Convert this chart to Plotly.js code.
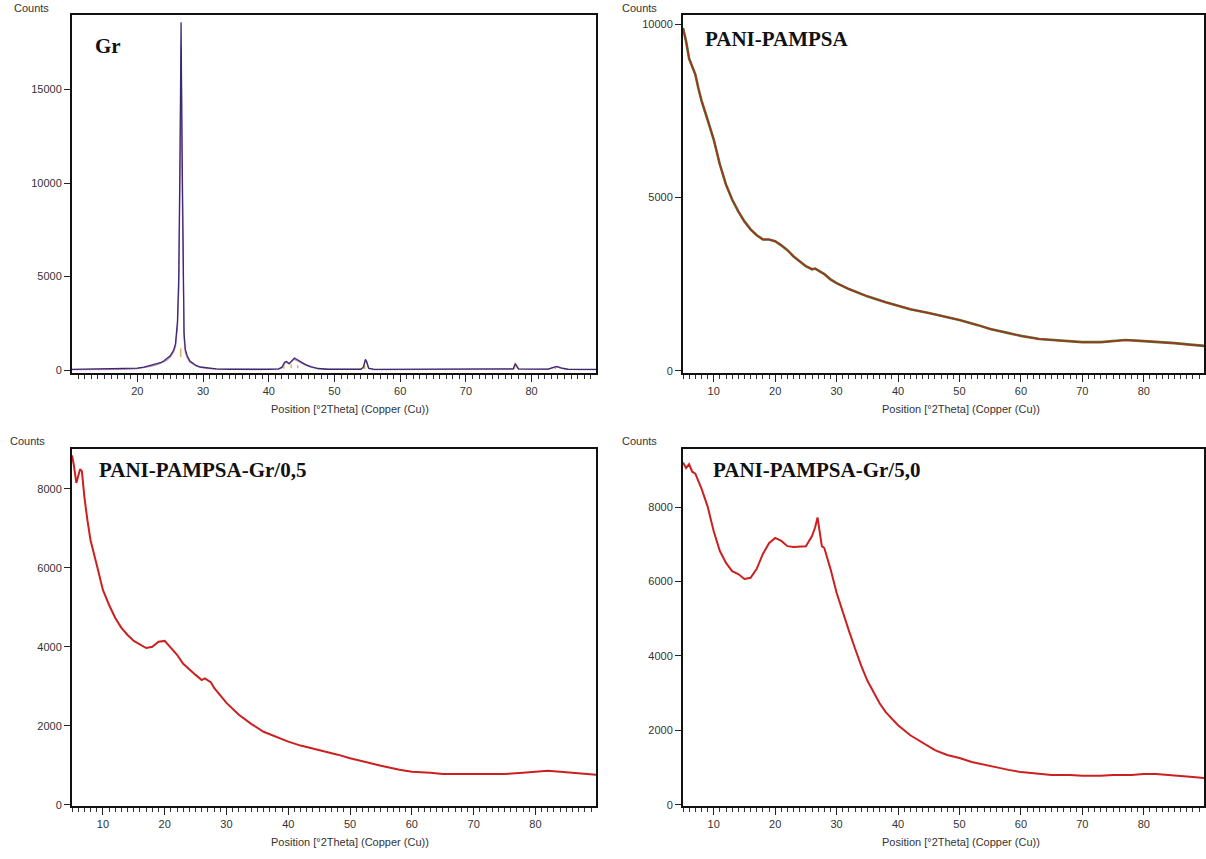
<!DOCTYPE html>
<html>
<head>
<meta charset="utf-8">
<script src="https://cdn.plot.ly/plotly-3.0.1.min.js"></script>
<style>html,body{margin:0;padding:0;background:#fff;}#chart{width:1206px;height:859px;}</style>
</head>
<body>
<div id="chart"></div>
<script>
// ---------- Data ----------
// Panel 1: Gr
const grTheta = [10,12,14,16,18,20,21,22,23,23.5,24,24.5,25,25.5,25.8,26.1,26.3,26.5,26.65,26.8,26.95,27.1,27.3,27.6,28,28.5,29,29.6,30.5,32,34,36,38,40,41.5,42,42.4,42.7,43.1,43.5,43.9,44.3,45,45.6,46.4,47.5,49,52,54,54.4,54.7,54.9,55.2,56,60,65,70,75,77.2,77.5,77.7,78,80,82.5,83.2,83.8,84.5,85.5,88,90];
const grObserved = [30,40,30,50,60,100,150,230,330,390,480,600,760,1050,1400,2600,5000,12000,18600,12000,5000,2000,1100,750,480,330,230,160,110,60,40,30,30,40,60,150,420,460,340,520,640,560,400,290,180,80,40,30,40,150,570,450,100,30,30,30,40,40,60,330,250,60,40,50,130,190,110,40,30,30];
const grCalculated = [20,25,20,30,40,80,130,200,290,350,430,540,690,950,1250,2300,4300,10500,17300,10500,4300,1700,950,650,420,290,200,140,90,50,30,20,20,30,50,110,350,400,330,470,580,500,360,260,160,70,30,20,30,120,500,380,80,20,20,20,30,30,50,280,210,50,30,40,110,170,90,30,20,20];
const grRefPos = [26.6, 42.3, 43.4, 44.4, 54.6, 77.4, 83.6];
const grRefLow = [700, 80, 100, 100, 60, 50, 40];
const grRefHigh = [1150, 250, 300, 260, 250, 180, 140];

// Panel 2: PANI-PAMPSA
const paTheta = [5,5.5,6,6.5,7,7.5,8,9,10,11,12,13,14,15,16,17,18,19,20,21,22,23,24,25,26,26.5,27,28,29,30,32,35,38,40,42,45,48,50,53,55,58,60,63,65,68,70,73,75,77,80,83,85,88,90];
const paCounts = [9885,9500,9000,8750,8550,8150,7800,7240,6670,5950,5370,4940,4600,4310,4080,3910,3790,3790,3740,3620,3480,3300,3160,3020,2930,2950,2900,2790,2640,2530,2360,2150,1980,1870,1780,1670,1550,1470,1320,1210,1090,1010,920,890,860,830,830,860,890,860,830,800,750,720];

// Panel 3: PANI-PAMPSA-Gr/0,5
const g05Theta = [5,5.3,5.7,6,6.3,6.6,7,7.5,8,9,10,11,12,13,14,15,16,17,18,19,20,21,22,23,24,25,26,26.5,27,27.5,28,29,30,32,34,36,38,40,42,45,48,50,53,55,58,60,63,65,68,70,73,75,78,80,82,84,86,88,90];
const g05Counts = [8850,8600,8150,8300,8500,8450,7800,7200,6700,6080,5440,5060,4730,4480,4300,4150,4050,3970,4000,4130,4150,3970,3800,3570,3420,3290,3160,3200,3150,3100,2960,2780,2580,2280,2050,1850,1720,1600,1500,1390,1270,1180,1060,990,890,840,810,780,780,780,780,780,810,840,860,840,810,780,760];

// Panel 4: PANI-PAMPSA-Gr/5,0
const g50Theta = [5,5.5,6,6.5,7,7.5,8,9,10,11,12,13,14,15,16,17,18,19,20,21,22,23,24,25,26,26.5,26.9,27.3,27.6,28,29,30,31,32,33,34,35,36,37,38,40,42,44,46,48,50,52,55,58,60,63,65,68,70,73,75,78,80,82,85,88,90];
const g50Counts = [9200,9050,9150,8950,8900,8700,8500,8020,7350,6820,6500,6280,6200,6070,6100,6340,6740,7030,7170,7090,6950,6930,6930,6950,7220,7450,7720,7300,6950,6900,6340,5700,5160,4680,4200,3740,3340,3020,2730,2490,2140,1870,1660,1470,1340,1260,1150,1040,940,880,830,800,800,780,780,800,800,830,830,780,750,720];

const panelLabels = ["Gr", "PANI-PAMPSA", "PANI-PAMPSA-Gr/0,5", "PANI-PAMPSA-Gr/5,0"];
const xTitle = "Position [°2Theta] (Copper (Cu))";
const yLabel = "Counts";

// ---------- Helpers ----------
const W = 1206, H = 859;
const px = v => v / W;
const py = v => 1 - v / H;
const sansFont = "'Liberation Sans', Arial, sans-serif";

// reference sticks as segments
const refX = [], refY = [];
grRefPos.forEach((p, i) => { refX.push(p, p, null); refY.push(grRefLow[i], grRefHigh[i], null); });

const traces = [
  {x: grTheta, y: grCalculated, xaxis: 'x', yaxis: 'y', mode: 'lines', line: {color: '#c08ab8', width: 1.3}, hoverinfo: 'skip'},
  {x: refX, y: refY, xaxis: 'x', yaxis: 'y', mode: 'lines', line: {color: '#e0a440', width: 1.3}, hoverinfo: 'skip'},
  {x: grTheta, y: grObserved, xaxis: 'x', yaxis: 'y', mode: 'lines', line: {color: '#3a2a72', width: 1.3}},
  {x: paTheta, y: paCounts, xaxis: 'x2', yaxis: 'y2', mode: 'lines', line: {color: '#4f7d35', width: 2.6}},
  {x: paTheta, y: paCounts, xaxis: 'x2', yaxis: 'y2', mode: 'lines', line: {color: '#a8301e', width: 1.5}},
  {x: g05Theta, y: g05Counts, xaxis: 'x3', yaxis: 'y3', mode: 'lines', line: {color: '#cc2020', width: 2}},
  {x: g50Theta, y: g50Counts, xaxis: 'x4', yaxis: 'y4', mode: 'lines', line: {color: '#cc2020', width: 2}}
];

function xAxis(domain, range, anchor) {
  return {
    domain: domain, range: range, anchor: anchor,
    showline: true, mirror: true, linecolor: '#111', linewidth: 2,
    showgrid: false, zeroline: false,
    ticks: 'outside', ticklen: 7, tickwidth: 1, tickcolor: '#222',
    dtick: 10, tick0: 0, tickformat: 'd',
    minor: {dtick: 1, tick0: 0, ticks: 'outside', ticklen: 4, tickwidth: 1, tickcolor: '#333', showgrid: false},
    tickfont: {family: sansFont, size: 11, color: '#333'}
  };
}
function yAxis(domain, range, anchor, dtick) {
  return {
    domain: domain, range: range, anchor: anchor,
    showline: true, mirror: true, linecolor: '#111', linewidth: 2,
    showgrid: false, zeroline: false,
    ticks: 'outside', ticklen: 6, tickwidth: 1, tickcolor: '#222',
    dtick: dtick, tick0: 0, tickformat: 'd',
    tickfont: {family: sansFont, size: 11, color: '#333'}
  };
}

const leftX = [px(72), px(596)];
const rightX = [px(683), px(1204)];
const topY = [py(373), py(15)];
const botY = [py(806), py(449)];

const annotations = [];
// "Counts" labels
[[12, 8], [620, 8], [8, 441], [620, 441]].forEach(([x, y]) => {
  annotations.push({text: yLabel, xref: 'paper', yref: 'paper', x: px(x), y: py(y), xanchor: 'left', yanchor: 'middle',
    showarrow: false, font: {family: sansFont, size: 11, color: '#333'}});
});
// x-axis titles
[[350, 409], [961, 409], [350, 842], [961, 842]].forEach(([x, y]) => {
  annotations.push({text: xTitle, xref: 'paper', yref: 'paper', x: px(x), y: py(y), xanchor: 'center', yanchor: 'middle',
    showarrow: false, font: {family: sansFont, size: 11, color: '#333'}});
});
// panel labels
[[93, 46], [703, 39], [97, 470], [711, 470]].forEach(([x, y], i) => {
  annotations.push({text: '<b>' + panelLabels[i] + '</b>', xref: 'paper', yref: 'paper', x: px(x), y: py(y), xanchor: 'left', yanchor: 'middle',
    showarrow: false, font: {family: "'Liberation Serif', 'Times New Roman', serif", size: 21, color: '#111'}});
});

const layout = {
  width: W, height: H,
  margin: {l: 0, r: 0, t: 0, b: 0},
  paper_bgcolor: '#fff', plot_bgcolor: '#fff',
  showlegend: false,
  xaxis: xAxis(leftX, [10.05, 89.8], 'y'),
  yaxis: yAxis(topY, [-160, 18990], 'x', 5000),
  xaxis2: xAxis(rightX, [5, 89.8], 'y2'),
  yaxis2: yAxis(topY, [-60, 10260], 'x2', 5000),
  xaxis3: xAxis(leftX, [5, 89.8], 'y3'),
  yaxis3: yAxis(botY, [-30, 9010], 'x3', 2000),
  xaxis4: xAxis(rightX, [5, 89.8], 'y4'),
  yaxis4: yAxis(botY, [-30, 9560], 'x4', 2000),
  annotations: annotations
};

Plotly.newPlot('chart', traces, layout, {displayModeBar: false, staticPlot: true});
</script>
</body>
</html>
